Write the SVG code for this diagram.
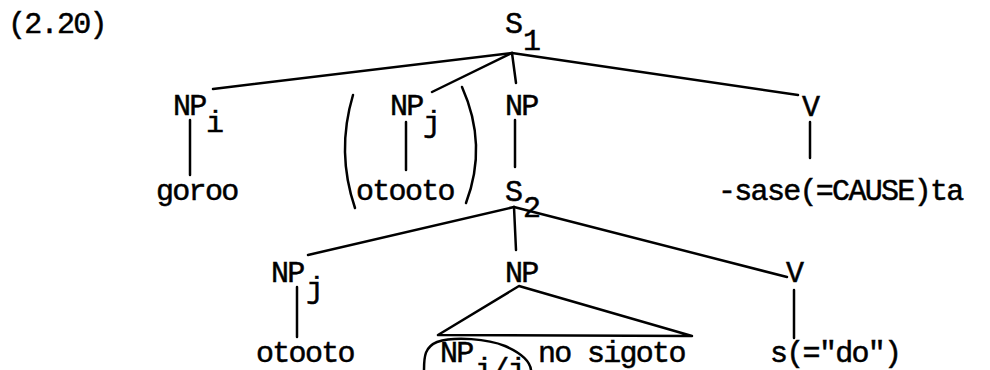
<svg xmlns="http://www.w3.org/2000/svg" width="990" height="370" viewBox="0 0 990 370">
  <style>
    .t { font-family: "Liberation Mono", "Courier New", monospace; font-size: 30px; letter-spacing: -1.7px; fill: #000; stroke: #000; stroke-width: 0.5; }
    .e { stroke: #000; stroke-width: 2.5; fill: none; stroke-linecap: round; }
  </style>
  <rect width="990" height="370" fill="#fff"/>

  <text class="t" x="8" y="33">(2.20)</text>

  <!-- tree edges -->
  <g id="connectors">
    <line class="e" x1="512" y1="53" x2="213" y2="89"/>
    <line class="e" x1="512" y1="53" x2="432" y2="92"/>
    <line class="e" x1="512" y1="53" x2="516" y2="83"/>
    <line class="e" x1="512" y1="53" x2="798" y2="95"/>
    <line class="e" x1="190" y1="120" x2="190" y2="175"/>
    <line class="e" x1="406" y1="122" x2="406" y2="170"/>
    <line class="e" x1="515" y1="120" x2="515" y2="167"/>
    <line class="e" x1="810" y1="122" x2="810" y2="158"/>
    <line class="e" x1="514" y1="207" x2="308" y2="255"/>
    <line class="e" x1="514" y1="207" x2="516" y2="250"/>
    <line class="e" x1="514" y1="207" x2="787" y2="277"/>
    <line class="e" x1="297" y1="287" x2="297" y2="337"/>
    <line class="e" x1="794" y1="290" x2="794" y2="338"/>
    <path class="e" d="M519,286 L438,335 L692,336 Z" stroke-linejoin="round"/>
  </g>

  <g id="S1">
    <text class="t" x="505" y="33">S</text>
    <text class="t" x="523" y="50">1</text>
  </g>

  <g id="NPi">
    <text class="t" x="173" y="115">NP</text>
    <text class="t" x="206" y="132">i</text>
  </g>
  <g id="goroo"><text class="t" x="156" y="200">goroo</text></g>

  <g id="NPj-opt">
    <path class="e" d="M353,95 Q336,152 355,208"/>
    <path class="e" d="M462,87 Q488,145 466,203"/>
    <text class="t" x="390" y="115">NP</text>
    <text class="t" x="423" y="132">j</text>
    <text class="t" x="356" y="200">otooto</text>
  </g>

  <g id="NP1"><text class="t" x="505" y="115">NP</text></g>

  <g id="V1">
    <text class="t" x="802" y="116">V</text>
    <text class="t" x="718" y="200">-sase(=CAUSE)ta</text>
  </g>

  <g id="S2">
    <text class="t" x="505" y="201">S</text>
    <text class="t" x="523" y="217">2</text>
  </g>

  <g id="NPj">
    <text class="t" x="271" y="282">NP</text>
    <text class="t" x="306" y="298">j</text>
    <text class="t" x="256" y="362">otooto</text>
  </g>

  <g id="NP2">
    <text class="t" x="505" y="282">NP</text>
    <path class="e" d="M424,370 C424,356 425,347 437,342 C455,336 488,339 505,346 C521,353 530,361 531,370"/>
    <text class="t" x="440" y="362">NP</text>
    <text class="t" x="475" y="379">i/j</text>
    <text class="t" x="538" y="362">no sigoto</text>
  </g>

  <g id="V2">
    <text class="t" x="786" y="282">V</text>
    <text class="t" x="770" y="362">s(="do")</text>
  </g>
</svg>
